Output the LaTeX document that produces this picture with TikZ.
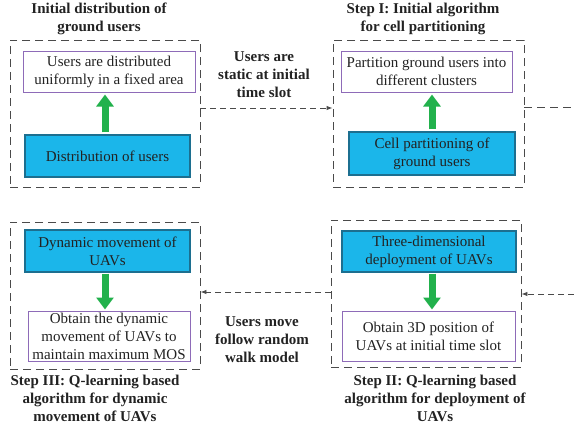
\documentclass[tikz,border=0pt]{standalone}
\usepackage{fontspec}
\setmainfont{Liberation Serif}
\usepackage{xcolor}
\usepackage{tikz}
\usetikzlibrary{arrows.meta}
\definecolor{cyanfill}{HTML}{1BB6EA}
\definecolor{cyanedge}{HTML}{1C6F90}
\definecolor{purpedge}{HTML}{8E6BB8}
\definecolor{upgreen}{HTML}{22B14C}
\definecolor{framegray}{HTML}{4A4A4A}
\definecolor{ink}{HTML}{222222}

\tikzset{
  txt/.style={font=\fontsize{15}{18}\selectfont, text=ink, align=center},
  bluebox/.style={txt, draw=cyanedge, fill=cyanfill, line width=1.3pt, inner sep=0pt},
  purpbox/.style={txt, draw=purpedge, fill=white, line width=1pt, inner sep=0pt},
  stepframe/.style={draw=framegray, line width=0.9pt, dash pattern=on 8pt off 5pt, inner sep=0pt},
  steptitle/.style={txt, font=\fontsize{15}{18}\selectfont\bfseries},
  greenarrow/.style={upgreen, line width=7pt, -{Triangle[length=12pt,width=17pt]}},
  dasharrow/.style={framegray, line width=0.9pt, dash pattern=on 6pt off 4pt, -{Latex[length=6pt,width=4.5pt]}},
  dashline/.style={framegray, line width=0.9pt, dash pattern=on 8pt off 5pt}
}

\begin{document}
\begin{tikzpicture}[x=1pt, y=-1pt]
        \useasboundingbox (0,0) rectangle (574,431);
        \node[stepframe, minimum width=190, minimum height=147] (frameA) at (105,113.5) {};
        \node[stepframe, minimum width=191, minimum height=147] (frameB) at (428.5,113.5) {};
        \node[stepframe, minimum width=190, minimum height=147] (frameC) at (105,295.5) {};
        \node[stepframe, minimum width=190, minimum height=147] (frameD) at (426,293.5) {};

        \node[steptitle] (titleA) at (99,19) {Initial distribution of\\ground users};
        \node[steptitle] (titleB) at (423,19) {Step I: Initial algorithm\\for cell partitioning};
        \node[steptitle] (titleC) at (95,398) {Step III: Q-learning based\\algorithm for dynamic\\movement of UAVs};
        \node[steptitle] (titleD) at (435,398) {Step II: Q-learning based\\algorithm for deployment of\\UAVs};
        \node[steptitle] (staticmsg) at (264,75) {Users are\\static at initial\\time slot};
        \node[steptitle] (walkmsg) at (262,340) {Users move\\follow random\\walk model};

        \node[purpbox, minimum width=172, minimum height=41] (purpA) at (109,71.5) {Users are distributed\\uniformly in a fixed area};
        \node[bluebox, minimum width=165, minimum height=42] (blueA) at (107.5,156) {Distribution of users};
        \node[purpbox, minimum width=171, minimum height=41] (purpB) at (426.5,71.5) {Partition ground users into\\different clusters};
        \node[bluebox, minimum width=166, minimum height=43] (blueB) at (432,153.5) {Cell partitioning of\\ground users};
        \node[bluebox, minimum width=165, minimum height=42] (blueC) at (107.5,251) {Dynamic movement of\\UAVs};
        \node[purpbox, minimum width=162, minimum height=50] (purpC) at (109,336) {Obtain the dynamic\\movement of UAVs to\\maintain maximum MOS};
        \node[bluebox, minimum width=174, minimum height=41] (blueD) at (429,251.5) {Three-dimensional\\deployment of UAVs};
        \node[purpbox, minimum width=173, minimum height=50] (purpD) at (428.5,336) {Obtain 3D position of\\UAVs at initial time slot};

        \draw[greenarrow, shorten <=2pt, shorten >=2pt] (blueA.north -| 105,0) -- (purpA.south -| 105,0);
        \draw[greenarrow, shorten <=2pt, shorten >=2pt] (blueB.north) -- (blueB.north |- purpB.south);
        \draw[greenarrow, shorten <=1pt, shorten >=1pt] (blueC.south -| 105,0) -- (purpC.north -| 105,0);
        \draw[greenarrow, shorten <=1pt, shorten >=1pt] (blueD.south -| 432,0) -- (purpD.north -| 432,0);

        \coordinate (loopout) at (574,107);
        \coordinate (loopin) at (574,294);
        \draw[dasharrow] ([yshift=5.5pt]frameA.east) -- ([yshift=5.5pt]frameB.west);
        \draw[dashline] ([yshift=6.5pt]frameB.east) -- (loopout);
        \draw[dasharrow] (loopin) -- (loopin -| frameD.east);
        \draw[dasharrow] ([yshift=1.5pt]frameD.west) -- ([yshift=1.5pt]frameD.west -| frameC.east);
      \end{tikzpicture}
\end{document}
